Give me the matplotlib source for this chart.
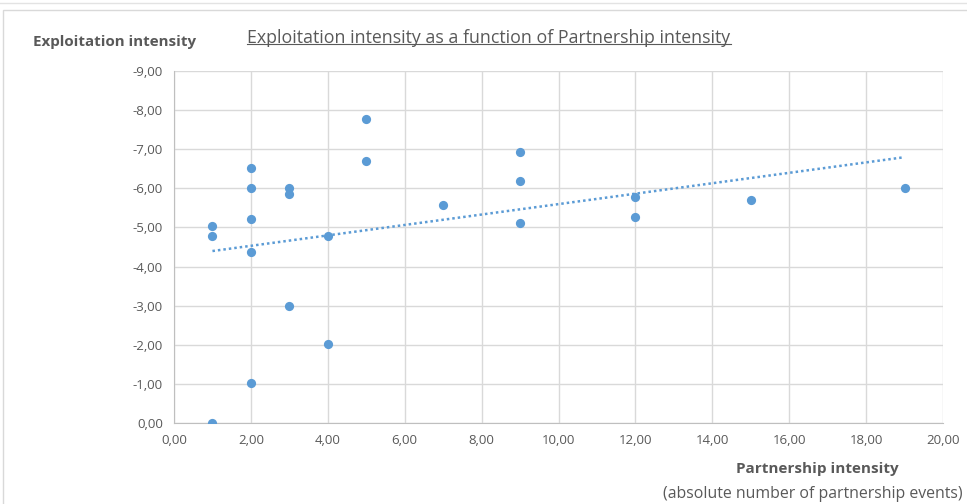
import numpy as np
import matplotlib
matplotlib.use("Agg")
import matplotlib.pyplot as plt
from matplotlib.ticker import FuncFormatter, MultipleLocator
from matplotlib.patches import Rectangle
from matplotlib.lines import Line2D

# partnership intensity (x) vs exploitation intensity (y)
partnership = [1, 1, 1, 2, 2, 2, 2, 2, 3, 3, 3, 4, 4, 5, 5, 7, 9, 9, 9, 12, 12, 15, 19]
exploitation = [-5.03, -4.78, 0.0, -6.53, -6.01, -5.22, -4.36, -1.02,
                -6.02, -5.85, -3.0, -4.79, -2.02, -7.76, -6.69, -5.58,
                -6.93, -6.18, -5.11, -5.79, -5.27, -5.70, -6.02]

title = "Exploitation intensity as a function of Partnership intensity"
ylab = "Exploitation intensity"
xlab = "Partnership intensity"
xlab2 = "(absolute number of partnership events)"

blue = "#5b9bd5"
txt = "#595959"
grid = "#d9d9d9"
font = "Open Sans"

fig = plt.figure(figsize=(9.67, 5.04), dpi=100)
ax = fig.add_axes([174/967, 1-423/504, (943-174)/967, (423-71)/504])

# chart frame
fig.patches.append(Rectangle((3/967, -0.1), 1.1, 1 - 10/504 + 0.1, transform=fig.transFigure,
                             fill=False, edgecolor="#d9d9d9", lw=1.0))
fig.lines.append(Line2D([0, 1], [1-3/504, 1-3/504], transform=fig.transFigure, color="#e3e3e3", lw=1.0))

ax.scatter(partnership, exploitation, s=44, color=blue, zorder=3, linewidths=0)

# linear trendline
b1, b0 = np.polyfit(partnership, exploitation, 1)
xt = np.array([min(partnership), max(partnership)])
ax.plot(xt, b0 + b1*xt, color=blue, lw=1.8, ls=(0, (1, 1.2)), zorder=2)

ax.set_xlim(0, 20)
ax.set_ylim(0, -9)
ax.xaxis.set_major_locator(MultipleLocator(2))
ax.yaxis.set_major_locator(MultipleLocator(1))
fmt = FuncFormatter(lambda v, p: f"{v:.2f}".replace(".", ",").replace("-0,00", "0,00"))
ax.xaxis.set_major_formatter(fmt)
ax.yaxis.set_major_formatter(fmt)
ax.grid(True, color=grid, lw=1.0)
ax.set_axisbelow(True)
for s in ["top", "right"]:
    ax.spines[s].set_visible(False)
for s in ["left", "bottom"]:
    ax.spines[s].set_color("#bfbfbf")
ax.tick_params(length=0, labelsize=9.5, labelcolor=txt, pad=8)
for lbl in ax.get_xticklabels() + ax.get_yticklabels():
    lbl.set_fontfamily(font)

fig.text(33/967, 1-42/504, ylab, fontsize=10.9, fontweight="bold", color=txt, family=font,
         ha="left", va="center")
t = fig.text(489/967, 1-38/504, title, fontsize=12.8, color=txt, family=font, ha="center", va="center")
fig.text(817/967, 1-469/504, xlab, fontsize=11, fontweight="bold", color=txt, family=font,
         ha="center", va="center")
fig.text(663/967, 1-494/504, xlab2, fontsize=11.4, color=txt, family=font, ha="left", va="center")

# underline the title
fig.canvas.draw()
bb = t.get_window_extent().transformed(fig.transFigure.inverted())
fig.lines.append(Line2D([bb.x0, bb.x1], [bb.y0 + 0.006, bb.y0 + 0.006], transform=fig.transFigure,
                        color=txt, lw=0.8))

fig.savefig("out.png", dpi=100)
